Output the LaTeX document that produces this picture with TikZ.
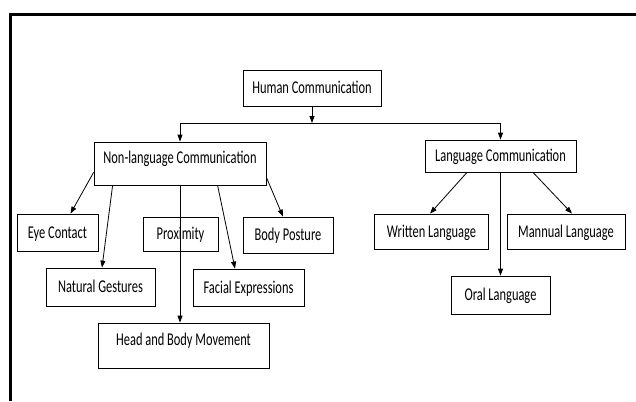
\documentclass[tikz,border=0pt]{standalone}
\usepackage{fontspec}
\setmainfont{Carlito}[FakeStretch=0.69]
\usetikzlibrary{arrows.meta}
\begin{document}
\begin{tikzpicture}[x=1pt,y=-1pt,
  box/.style={draw=black, line width=0.8pt, inner sep=0pt, align=center,
    font=\fontsize{18}{20}\selectfont, text height=11.6pt, text depth=0pt},
  topbox/.style={box, text depth=11pt},
  arr/.style={line width=0.8pt, -{Triangle[length=7pt,width=5pt]}},
  ln/.style={line width=0.8pt}]
\useasboundingbox (0,0) rectangle (636,401);
\fill[white] (0,0) rectangle (636,401);
\draw[line width=3pt] (636,14.5) -- (10,14.5) -- (10,401);

\node[box, minimum width=138pt, minimum height=36pt] (hc) at (312,88) {Human Communication};
\node[topbox, minimum width=172pt, minimum height=43pt] (nl) at (180,163.5) {Non-language Communication};
\node[box, minimum width=151pt, minimum height=32pt] (lc) at (500.5,156) {Language Communication};

\node[box, minimum width=81pt, minimum height=37pt] (eye) at (57.5,232.5) {Eye Contact};
\node[box, minimum width=75pt, minimum height=34pt] (px) at (180.5,234) {Proximity};
\node[box, minimum width=90pt, minimum height=36pt] (bp) at (288,235) {Body Posture};
\node[box, minimum width=109pt, minimum height=38pt] (ng) at (100.5,287) {Natural Gestures};
\node[box, minimum width=111pt, minimum height=37pt] (fe) at (248.5,287.5) {Facial Expressions};
\node[topbox, minimum width=171pt, minimum height=45pt] (hb) at (183.5,345.5) {Head and Body Movement};

\node[box, minimum width=114pt, minimum height=35pt] (wl) at (431.5,231.5) {Written Language};
\node[box, minimum width=118pt, minimum height=35pt] (ml) at (566,231.5) {Mannual Language};
\node[box, minimum width=99pt, minimum height=38pt] (ol) at (500.5,295) {Oral Language};

\coordinate (split) at (312,123);
\draw[arr] (hc.south) -- (split);
\draw[ln] (nl.north |- split) -- (lc.north |- split);
\draw[arr] (nl.north |- split) -- (nl.north);
\draw[arr] (lc.north |- split) -- (lc.north);

\draw[arr] ([yshift=13pt]nl.south west) -- ([xshift=13pt]eye.north);
\draw[arr] ([xshift=19pt]nl.south west) -- ([xshift=1.5pt]ng.north);
\draw[arr] (nl.south) -- (nl.south |- hb.north);
\draw[arr] ([xshift=124pt]nl.south west) -- ([xshift=-13.5pt]fe.north);
\draw[arr] ([yshift=8pt]nl.south east) -- ([xshift=-5pt]bp.north);

\draw[arr] ([xshift=-33.5pt]lc.south) -- ([xshift=-1.5pt]wl.north);
\draw[arr] (lc.south) -- (ol.north);
\draw[arr] ([xshift=32.5pt]lc.south) -- ([xshift=6pt]ml.north);
\end{tikzpicture}
\end{document}
